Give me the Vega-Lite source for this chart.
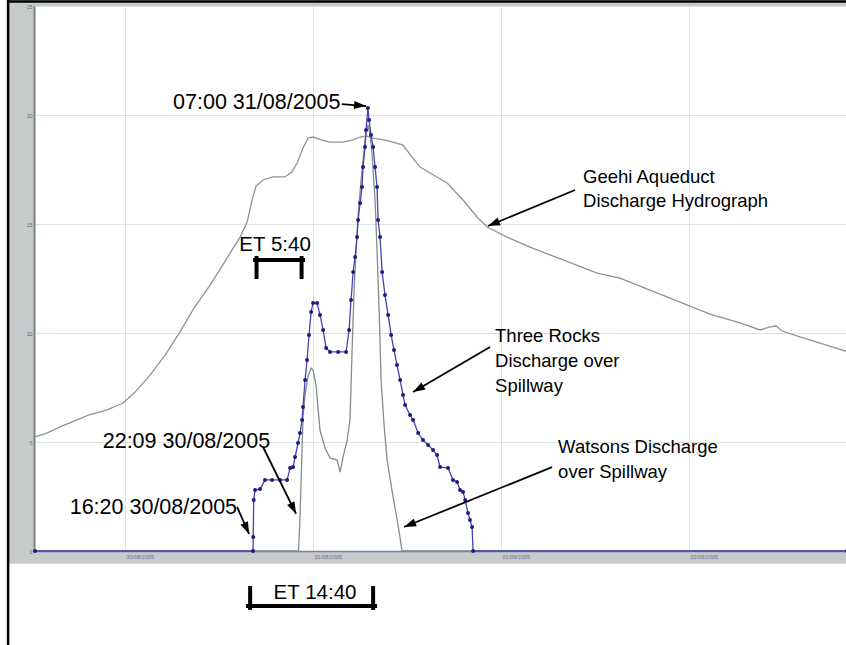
{
  "$schema": "https://vega.github.io/schema/vega-lite/v6.json",
  "width": 812,
  "height": 545,
  "autosize": {"type": "none"},
  "padding": {"left": 35, "top": 6, "right": 0, "bottom": 94},
  "background": "#c6caca",
  "config": {
    "view": {"stroke": null, "fill": "white"},
    "axisX": {"domainWidth": 1.5, "domainColor": "#7c7ca8", "ticks": false, "labelFontSize": 5.5, "labelColor": "#6a6a98", "labelPadding": 3, "labelFont": "Liberation Sans", "grid": true, "gridColor": "#dde2e2", "labelAlign": "left", "labelOffset": 1, "labelFlush": false, "labelOverlap": false},
    "axisY": {"offset": 1, "domainWidth": 2, "domainColor": "#7a8282", "ticks": false, "labelFontSize": 5, "labelColor": "#5e6666", "labelPadding": 2, "labelFont": "Liberation Sans", "grid": true, "gridColor": "#dde2e2"}
  },
  "datasets": {
    "series": [
      {"series": "Geehi Aqueduct", "time": "2005-08-29T12:30", "value": 5.23},
      {"series": "Geehi Aqueduct", "time": "2005-08-29T13:47", "value": 5.37},
      {"series": "Geehi Aqueduct", "time": "2005-08-29T15:42", "value": 5.69},
      {"series": "Geehi Aqueduct", "time": "2005-08-29T17:29", "value": 5.96},
      {"series": "Geehi Aqueduct", "time": "2005-08-29T19:24", "value": 6.24},
      {"series": "Geehi Aqueduct", "time": "2005-08-29T21:42", "value": 6.47},
      {"series": "Geehi Aqueduct", "time": "2005-08-29T23:45", "value": 6.79},
      {"series": "Geehi Aqueduct", "time": "2005-08-30T01:17", "value": 7.29},
      {"series": "Geehi Aqueduct", "time": "2005-08-30T03:11", "value": 8.07},
      {"series": "Geehi Aqueduct", "time": "2005-08-30T05:07", "value": 8.99},
      {"series": "Geehi Aqueduct", "time": "2005-08-30T07:01", "value": 10.05},
      {"series": "Geehi Aqueduct", "time": "2005-08-30T08:49", "value": 11.15},
      {"series": "Geehi Aqueduct", "time": "2005-08-30T10:51", "value": 12.2},
      {"series": "Geehi Aqueduct", "time": "2005-08-30T12:23", "value": 13.07},
      {"series": "Geehi Aqueduct", "time": "2005-08-30T13:40", "value": 13.81},
      {"series": "Geehi Aqueduct", "time": "2005-08-30T14:41", "value": 14.4},
      {"series": "Geehi Aqueduct", "time": "2005-08-30T15:35", "value": 15.09},
      {"series": "Geehi Aqueduct", "time": "2005-08-30T16:13", "value": 16.1},
      {"series": "Geehi Aqueduct", "time": "2005-08-30T16:43", "value": 16.74},
      {"series": "Geehi Aqueduct", "time": "2005-08-30T17:37", "value": 17.02},
      {"series": "Geehi Aqueduct", "time": "2005-08-30T18:53", "value": 17.16},
      {"series": "Geehi Aqueduct", "time": "2005-08-30T20:26", "value": 17.16},
      {"series": "Geehi Aqueduct", "time": "2005-08-30T21:19", "value": 17.39},
      {"series": "Geehi Aqueduct", "time": "2005-08-30T21:58", "value": 17.8},
      {"series": "Geehi Aqueduct", "time": "2005-08-30T22:43", "value": 18.49},
      {"series": "Geehi Aqueduct", "time": "2005-08-30T23:22", "value": 18.94},
      {"series": "Geehi Aqueduct", "time": "2005-08-31T00:00", "value": 18.99},
      {"series": "Geehi Aqueduct", "time": "2005-08-31T01:09", "value": 18.85},
      {"series": "Geehi Aqueduct", "time": "2005-08-31T02:10", "value": 18.76},
      {"series": "Geehi Aqueduct", "time": "2005-08-31T03:50", "value": 18.76},
      {"series": "Geehi Aqueduct", "time": "2005-08-31T04:59", "value": 18.85},
      {"series": "Geehi Aqueduct", "time": "2005-08-31T06:00", "value": 18.99},
      {"series": "Geehi Aqueduct", "time": "2005-08-31T06:46", "value": 19.04},
      {"series": "Geehi Aqueduct", "time": "2005-08-31T07:40", "value": 18.94},
      {"series": "Geehi Aqueduct", "time": "2005-08-31T09:11", "value": 18.85},
      {"series": "Geehi Aqueduct", "time": "2005-08-31T10:13", "value": 18.76},
      {"series": "Geehi Aqueduct", "time": "2005-08-31T11:29", "value": 18.62},
      {"series": "Geehi Aqueduct", "time": "2005-08-31T12:38", "value": 18.07},
      {"series": "Geehi Aqueduct", "time": "2005-08-31T13:40", "value": 17.61},
      {"series": "Geehi Aqueduct", "time": "2005-08-31T14:56", "value": 17.34},
      {"series": "Geehi Aqueduct", "time": "2005-08-31T17:07", "value": 16.88},
      {"series": "Geehi Aqueduct", "time": "2005-08-31T19:09", "value": 16.1},
      {"series": "Geehi Aqueduct", "time": "2005-08-31T20:56", "value": 15.32},
      {"series": "Geehi Aqueduct", "time": "2005-08-31T22:13", "value": 14.86},
      {"series": "Geehi Aqueduct", "time": "2005-09-01T00:46", "value": 14.4},
      {"series": "Geehi Aqueduct", "time": "2005-09-01T03:42", "value": 13.94},
      {"series": "Geehi Aqueduct", "time": "2005-09-01T07:55", "value": 13.35},
      {"series": "Geehi Aqueduct", "time": "2005-09-01T12:16", "value": 12.75},
      {"series": "Geehi Aqueduct", "time": "2005-09-01T15:11", "value": 12.52},
      {"series": "Geehi Aqueduct", "time": "2005-09-01T19:01", "value": 11.97},
      {"series": "Geehi Aqueduct", "time": "2005-09-01T22:51", "value": 11.42},
      {"series": "Geehi Aqueduct", "time": "2005-09-02T02:41", "value": 10.87},
      {"series": "Geehi Aqueduct", "time": "2005-09-02T06:31", "value": 10.46},
      {"series": "Geehi Aqueduct", "time": "2005-09-02T09:04", "value": 10.14},
      {"series": "Geehi Aqueduct", "time": "2005-09-02T10:20", "value": 10.28},
      {"series": "Geehi Aqueduct", "time": "2005-09-02T11:07", "value": 10.32},
      {"series": "Geehi Aqueduct", "time": "2005-09-02T11:53", "value": 10.09},
      {"series": "Geehi Aqueduct", "time": "2005-09-02T14:10", "value": 9.82},
      {"series": "Geehi Aqueduct", "time": "2005-09-02T16:44", "value": 9.54},
      {"series": "Geehi Aqueduct", "time": "2005-09-02T20:10", "value": 9.15},
      {"series": "Watsons", "time": "2005-08-29T12:30", "value": 0},
      {"series": "Watsons", "time": "2005-08-30T22:09", "value": 0},
      {"series": "Watsons", "time": "2005-08-30T22:20", "value": 1.56},
      {"series": "Watsons", "time": "2005-08-30T22:43", "value": 6.15},
      {"series": "Watsons", "time": "2005-08-30T22:59", "value": 7.16},
      {"series": "Watsons", "time": "2005-08-30T23:22", "value": 8.03},
      {"series": "Watsons", "time": "2005-08-30T23:45", "value": 8.39},
      {"series": "Watsons", "time": "2005-08-31T00:00", "value": 8.3},
      {"series": "Watsons", "time": "2005-08-31T00:23", "value": 7.61},
      {"series": "Watsons", "time": "2005-08-31T00:53", "value": 5.55},
      {"series": "Watsons", "time": "2005-08-31T01:32", "value": 4.72},
      {"series": "Watsons", "time": "2005-08-31T02:10", "value": 4.27},
      {"series": "Watsons", "time": "2005-08-31T03:04", "value": 4.17},
      {"series": "Watsons", "time": "2005-08-31T03:27", "value": 3.62},
      {"series": "Watsons", "time": "2005-08-31T03:50", "value": 4.31},
      {"series": "Watsons", "time": "2005-08-31T04:21", "value": 5.09},
      {"series": "Watsons", "time": "2005-08-31T04:43", "value": 6.01},
      {"series": "Watsons", "time": "2005-08-31T04:59", "value": 9.22},
      {"series": "Watsons", "time": "2005-08-31T05:14", "value": 11.97},
      {"series": "Watsons", "time": "2005-08-31T05:30", "value": 13.81},
      {"series": "Watsons", "time": "2005-08-31T05:45", "value": 15.41},
      {"series": "Watsons", "time": "2005-08-31T06:08", "value": 17.02},
      {"series": "Watsons", "time": "2005-08-31T06:31", "value": 18.39},
      {"series": "Watsons", "time": "2005-08-31T06:46", "value": 19.22},
      {"series": "Watsons", "time": "2005-08-31T07:01", "value": 19.54},
      {"series": "Watsons", "time": "2005-08-31T07:17", "value": 19.08},
      {"series": "Watsons", "time": "2005-08-31T07:32", "value": 18.17},
      {"series": "Watsons", "time": "2005-08-31T07:55", "value": 16.1},
      {"series": "Watsons", "time": "2005-08-31T08:10", "value": 13.81},
      {"series": "Watsons", "time": "2005-08-31T08:26", "value": 11.06},
      {"series": "Watsons", "time": "2005-08-31T08:41", "value": 7.84},
      {"series": "Watsons", "time": "2005-08-31T09:04", "value": 5.78},
      {"series": "Watsons", "time": "2005-08-31T09:27", "value": 4.17},
      {"series": "Watsons", "time": "2005-08-31T10:13", "value": 2.48},
      {"series": "Watsons", "time": "2005-08-31T10:51", "value": 1.19},
      {"series": "Watsons", "time": "2005-08-31T11:22", "value": 0},
      {"series": "Watsons", "time": "2005-09-02T20:10", "value": 0},
      {"series": "Three Rocks", "time": "2005-08-29T12:30", "value": 0},
      {"series": "Three Rocks", "time": "2005-08-30T16:20", "value": 0},
      {"series": "Three Rocks", "time": "2005-08-30T16:22", "value": 0.64},
      {"series": "Three Rocks", "time": "2005-08-30T16:25", "value": 2.34},
      {"series": "Three Rocks", "time": "2005-08-30T16:36", "value": 2.8},
      {"series": "Three Rocks", "time": "2005-08-30T17:14", "value": 2.84},
      {"series": "Three Rocks", "time": "2005-08-30T17:52", "value": 3.26},
      {"series": "Three Rocks", "time": "2005-08-30T18:46", "value": 3.26},
      {"series": "Three Rocks", "time": "2005-08-30T19:47", "value": 3.26},
      {"series": "Three Rocks", "time": "2005-08-30T20:41", "value": 3.26},
      {"series": "Three Rocks", "time": "2005-08-30T21:04", "value": 3.81},
      {"series": "Three Rocks", "time": "2005-08-30T21:27", "value": 3.85},
      {"series": "Three Rocks", "time": "2005-08-30T21:42", "value": 4.31},
      {"series": "Three Rocks", "time": "2005-08-30T22:05", "value": 4.95},
      {"series": "Three Rocks", "time": "2005-08-30T22:20", "value": 5.41},
      {"series": "Three Rocks", "time": "2005-08-30T22:36", "value": 6.01},
      {"series": "Three Rocks", "time": "2005-08-30T22:43", "value": 6.61},
      {"series": "Three Rocks", "time": "2005-08-30T22:59", "value": 7.84},
      {"series": "Three Rocks", "time": "2005-08-30T23:14", "value": 8.76},
      {"series": "Three Rocks", "time": "2005-08-30T23:29", "value": 9.91},
      {"series": "Three Rocks", "time": "2005-08-30T23:45", "value": 10.96},
      {"series": "Three Rocks", "time": "2005-08-31T00:00", "value": 11.38},
      {"series": "Three Rocks", "time": "2005-08-31T00:31", "value": 11.38},
      {"series": "Three Rocks", "time": "2005-08-31T00:53", "value": 10.83},
      {"series": "Three Rocks", "time": "2005-08-31T01:17", "value": 10.14},
      {"series": "Three Rocks", "time": "2005-08-31T01:40", "value": 9.31},
      {"series": "Three Rocks", "time": "2005-08-31T02:10", "value": 9.13},
      {"series": "Three Rocks", "time": "2005-08-31T03:12", "value": 9.13},
      {"series": "Three Rocks", "time": "2005-08-31T04:13", "value": 9.13},
      {"series": "Three Rocks", "time": "2005-08-31T04:36", "value": 10.14},
      {"series": "Three Rocks", "time": "2005-08-31T04:51", "value": 11.51},
      {"series": "Three Rocks", "time": "2005-08-31T05:07", "value": 12.8},
      {"series": "Three Rocks", "time": "2005-08-31T05:22", "value": 13.49},
      {"series": "Three Rocks", "time": "2005-08-31T05:37", "value": 14.4},
      {"series": "Three Rocks", "time": "2005-08-31T05:45", "value": 15.18},
      {"series": "Three Rocks", "time": "2005-08-31T06:00", "value": 15.96},
      {"series": "Three Rocks", "time": "2005-08-31T06:15", "value": 16.7},
      {"series": "Three Rocks", "time": "2005-08-31T06:23", "value": 17.61},
      {"series": "Three Rocks", "time": "2005-08-31T06:38", "value": 18.53},
      {"series": "Three Rocks", "time": "2005-08-31T06:46", "value": 19.31},
      {"series": "Three Rocks", "time": "2005-08-31T07:00", "value": 20.32},
      {"series": "Three Rocks", "time": "2005-08-31T07:09", "value": 19.77},
      {"series": "Three Rocks", "time": "2005-08-31T07:24", "value": 19.08},
      {"series": "Three Rocks", "time": "2005-08-31T07:40", "value": 18.53},
      {"series": "Three Rocks", "time": "2005-08-31T07:55", "value": 17.61},
      {"series": "Three Rocks", "time": "2005-08-31T08:10", "value": 16.7},
      {"series": "Three Rocks", "time": "2005-08-31T08:18", "value": 15.18},
      {"series": "Three Rocks", "time": "2005-08-31T08:33", "value": 14.4},
      {"series": "Three Rocks", "time": "2005-08-31T08:49", "value": 12.8},
      {"series": "Three Rocks", "time": "2005-08-31T09:11", "value": 11.74},
      {"series": "Three Rocks", "time": "2005-08-31T09:35", "value": 10.83},
      {"series": "Three Rocks", "time": "2005-08-31T09:58", "value": 9.91},
      {"series": "Three Rocks", "time": "2005-08-31T10:20", "value": 9.22},
      {"series": "Three Rocks", "time": "2005-08-31T10:43", "value": 8.53},
      {"series": "Three Rocks", "time": "2005-08-31T11:07", "value": 7.84},
      {"series": "Three Rocks", "time": "2005-08-31T11:29", "value": 7.16},
      {"series": "Three Rocks", "time": "2005-08-31T11:45", "value": 6.7},
      {"series": "Three Rocks", "time": "2005-08-31T12:23", "value": 6.24},
      {"series": "Three Rocks", "time": "2005-08-31T12:46", "value": 6.01},
      {"series": "Three Rocks", "time": "2005-08-31T13:25", "value": 5.41},
      {"series": "Three Rocks", "time": "2005-08-31T14:02", "value": 5.09},
      {"series": "Three Rocks", "time": "2005-08-31T14:41", "value": 4.86},
      {"series": "Three Rocks", "time": "2005-08-31T15:19", "value": 4.63},
      {"series": "Three Rocks", "time": "2005-08-31T15:50", "value": 4.4},
      {"series": "Three Rocks", "time": "2005-08-31T16:13", "value": 3.85},
      {"series": "Three Rocks", "time": "2005-08-31T17:14", "value": 3.81},
      {"series": "Three Rocks", "time": "2005-08-31T17:52", "value": 3.26},
      {"series": "Three Rocks", "time": "2005-08-31T18:23", "value": 3.17},
      {"series": "Three Rocks", "time": "2005-08-31T18:46", "value": 2.8},
      {"series": "Three Rocks", "time": "2005-08-31T19:09", "value": 2.71},
      {"series": "Three Rocks", "time": "2005-08-31T19:25", "value": 2.34},
      {"series": "Three Rocks", "time": "2005-08-31T19:47", "value": 1.74},
      {"series": "Three Rocks", "time": "2005-08-31T20:02", "value": 1.42},
      {"series": "Three Rocks", "time": "2005-08-31T20:18", "value": 1.1},
      {"series": "Three Rocks", "time": "2005-08-31T20:26", "value": 0},
      {"series": "Three Rocks", "time": "2005-09-02T20:10", "value": 0}
    ],
    "labels": [
      {"text": "Geehi Aqueduct", "time": "2005-09-01T10:28", "value": 17.16},
      {"text": "Discharge Hydrograph", "time": "2005-09-01T10:28", "value": 16.06},
      {"text": "Three Rocks", "time": "2005-08-31T23:14", "value": 9.86},
      {"text": "Discharge over", "time": "2005-08-31T23:14", "value": 8.72},
      {"text": "Spillway", "time": "2005-08-31T23:14", "value": 7.57},
      {"text": "Watsons Discharge", "time": "2005-09-01T07:17", "value": 4.77},
      {"text": "over Spillway", "time": "2005-09-01T07:17", "value": 3.62}
    ],
    "dateLabels": [
      {"text": "07:00 31/08/2005", "time": "2005-08-31T03:30", "value": 20.55},
      {"text": "22:09 30/08/2005", "time": "2005-08-30T18:31", "value": 5.0},
      {"text": "16:20 30/08/2005", "time": "2005-08-30T14:18", "value": 1.97}
    ],
    "etLabels": [
      {"text": "ET 5:40", "time": "2005-08-30T19:09", "value": 14.04},
      {"text": "ET 14:40", "time": "2005-08-31T00:15", "value": -1.93}
    ],
    "arrows": [
      {"time1": "2005-08-31T03:40", "value1": 20.5, "time2": "2005-08-31T06:46", "value2": 20.41, "heading": 95},
      {"time1": "2005-09-01T09:27", "value1": 16.56, "time2": "2005-08-31T22:20", "value2": 14.91, "heading": 247.5},
      {"time1": "2005-08-31T22:36", "value1": 9.36, "time2": "2005-08-31T12:46", "value2": 7.29, "heading": 239.7},
      {"time1": "2005-08-30T17:37", "value1": 4.77, "time2": "2005-08-30T21:50", "value2": 1.7, "heading": 153.8},
      {"time1": "2005-08-30T14:18", "value1": 2.02, "time2": "2005-08-30T15:50", "value2": 0.78, "heading": 156},
      {"time1": "2005-09-01T06:31", "value1": 3.85, "time2": "2005-08-31T11:37", "value2": 1.1, "heading": 247.9}
    ],
    "brackets": [
      {"time1": "2005-08-30T16:36", "value1": 13.35, "time2": "2005-08-30T22:43", "value2": 13.35},
      {"time1": "2005-08-30T16:47", "value1": 13.44, "time2": "2005-08-30T16:47", "value2": 12.57},
      {"time1": "2005-08-30T22:32", "value1": 13.44, "time2": "2005-08-30T22:32", "value2": 12.57},
      {"time1": "2005-08-30T15:42", "value1": -2.52, "time2": "2005-08-31T07:55", "value2": -2.52},
      {"time1": "2005-08-30T15:58", "value1": -1.7, "time2": "2005-08-30T15:58", "value2": -2.61},
      {"time1": "2005-08-31T07:40", "value1": -1.7, "time2": "2005-08-31T07:40", "value2": -2.61}
    ],
    "paper": [
      {"time1": "2005-08-29T06:00", "value1": -0.58, "time2": "2005-09-02T23:00", "value2": -5.0},
      {"time1": "2005-08-29T06:00", "value1": 26.0, "time2": "2005-08-29T08:56", "value2": -5.0}
    ],
    "frameBlack": [
      {"time1": "2005-08-29T09:04", "value1": 25.6, "time2": "2005-08-29T09:04", "value2": -5.0},
      {"time1": "2005-08-29T09:00", "value1": 25.21, "time2": "2005-09-02T23:00", "value2": 25.21}
    ]
  },
  "layer": [
    {
      "data": {"name": "series"},
      "mark": {"type": "line", "strokeWidth": 1.3},
      "encoding": {
        "x": {"field": "time", "type": "temporal", "title": null,
              "scale": {"domain": [{"year": 2005, "month": 8, "date": 29, "hours": 12, "minutes": 30}, {"year": 2005, "month": 9, "date": 2, "hours": 20, "minutes": 10}]},
              "axis": {"tickCount": {"interval": "day", "step": 1}, "format": "%d/%m/%Y"}},
        "y": {"field": "value", "type": "quantitative", "title": null,
              "scale": {"domain": [0, 25], "nice": false, "zero": false},
              "axis": {"values": [0, 5, 10, 15, 20, 25]}},
        "color": {"field": "series", "type": "nominal",
                  "scale": {"domain": ["Geehi Aqueduct", "Watsons", "Three Rocks"], "range": ["#8e9494", "#878b8b", "#4444b0"]},
                  "legend": null}
      }
    },
    {
      "data": {"name": "series"},
      "transform": [{"filter": "datum.series === 'Three Rocks'"}],
      "mark": {"type": "point", "filled": true, "size": 16, "opacity": 1, "color": "#1c1c80"},
      "encoding": {
        "x": {"field": "time", "type": "temporal", "title": null},
        "y": {"field": "value", "type": "quantitative", "title": null}
      }
    },
    {
      "data": {"name": "paper"},
      "mark": {"type": "rect", "color": "white"},
      "encoding": {
        "x": {"field": "time1", "type": "temporal", "title": null},
        "x2": {"field": "time2"},
        "y": {"field": "value1", "type": "quantitative", "title": null},
        "y2": {"field": "value2"}
      }
    },
    {
      "data": {"name": "frameBlack"},
      "mark": {"type": "rule", "color": "black", "strokeWidth": 2.5},
      "encoding": {
        "x": {"field": "time1", "type": "temporal", "title": null},
        "x2": {"field": "time2"},
        "y": {"field": "value1", "type": "quantitative", "title": null},
        "y2": {"field": "value2"}
      }
    },
    {
      "data": {"name": "brackets"},
      "mark": {"type": "rule", "color": "black", "strokeWidth": 4, "strokeCap": "square"},
      "encoding": {
        "x": {"field": "time1", "type": "temporal", "title": null},
        "x2": {"field": "time2"},
        "y": {"field": "value1", "type": "quantitative", "title": null},
        "y2": {"field": "value2"}
      }
    },
    {
      "data": {"name": "arrows"},
      "mark": {"type": "rule", "color": "black", "strokeWidth": 1.8},
      "encoding": {
        "x": {"field": "time1", "type": "temporal", "title": null},
        "x2": {"field": "time2"},
        "y": {"field": "value1", "type": "quantitative", "title": null},
        "y2": {"field": "value2"}
      }
    },
    {
      "data": {"name": "arrows"},
      "mark": {"type": "point", "shape": "M0,0L-0.75,2.2L0.75,2.2Z", "filled": true, "size": 120, "opacity": 1, "color": "black", "strokeWidth": 0},
      "encoding": {
        "x": {"field": "time2", "type": "temporal", "title": null},
        "y": {"field": "value2", "type": "quantitative", "title": null},
        "angle": {"field": "heading", "type": "quantitative", "scale": null}
      }
    },
    {
      "data": {"name": "labels"},
      "mark": {"type": "text", "align": "left", "baseline": "middle", "font": "Liberation Sans", "fontSize": 18.5, "color": "black"},
      "encoding": {
        "x": {"field": "time", "type": "temporal", "title": null},
        "y": {"field": "value", "type": "quantitative", "title": null},
        "text": {"field": "text"}
      }
    },
    {
      "data": {"name": "dateLabels"},
      "mark": {"type": "text", "align": "right", "baseline": "middle", "font": "Liberation Sans", "fontSize": 21.5, "color": "black"},
      "encoding": {
        "x": {"field": "time", "type": "temporal", "title": null},
        "y": {"field": "value", "type": "quantitative", "title": null},
        "text": {"field": "text"}
      }
    },
    {
      "data": {"name": "etLabels"},
      "mark": {"type": "text", "align": "center", "baseline": "middle", "font": "Liberation Sans", "fontSize": 20.5, "color": "black"},
      "encoding": {
        "x": {"field": "time", "type": "temporal", "title": null},
        "y": {"field": "value", "type": "quantitative", "title": null},
        "text": {"field": "text"}
      }
    }
  ]
}
